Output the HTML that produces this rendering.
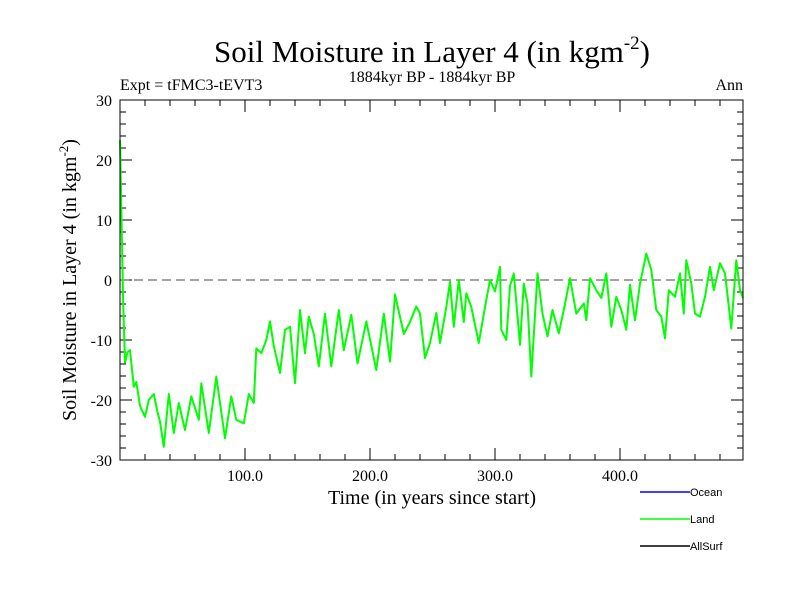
<!DOCTYPE html>
<html><head><meta charset="utf-8"><style>
body{margin:0;background:#fff;}
svg{display:block;font-family:"Liberation Serif",serif;}
</style></head><body>
<svg id="chart" width="800" height="600" xmlns="http://www.w3.org/2000/svg">
<rect width="800" height="600" fill="#fff"/>
<text x="432" y="62" font-size="31" text-anchor="middle">Soil Moisture in Layer 4 (in kgm<tspan font-size="19" dy="-13">-2</tspan><tspan dy="13">)</tspan></text>
<text x="120" y="90" font-size="16">Expt = tFMC3-tEVT3</text>
<text x="432" y="82" font-size="16" text-anchor="middle">1884kyr BP - 1884kyr BP</text>
<text x="743" y="90" font-size="16" text-anchor="end">Ann</text>
<text transform="translate(76,280) rotate(-90)" font-size="20" text-anchor="middle">Soil Moisture in Layer 4 (in kgm<tspan font-size="13" dy="-8">-2</tspan><tspan dy="8">)</tspan></text>
<text x="432" y="504" font-size="20" text-anchor="middle">Time (in years since start)</text>
<g id="axes"></g>
<g id="series"></g>
<rect x="120" y="100" width="623" height="360" fill="none" stroke="#000" stroke-width="1"/>
<g font-family="Liberation Sans, sans-serif" font-size="11">
<line x1="640" y1="492" x2="690" y2="492" stroke="#0000ff" stroke-width="1.5"/>
<text x="690" y="496">Ocean</text>
<line x1="640" y1="519" x2="690" y2="519" stroke="#00ff00" stroke-width="1.5"/>
<text x="690" y="523">Land</text>
<line x1="640" y1="546" x2="690" y2="546" stroke="#000" stroke-width="1.5"/>
<text x="690" y="550">AllSurf</text>
</g>
</svg>
<script>
const years=[0,1,2.5,4,6,8,11,13,16,20,23,27,30,32,35,39,43,47,52,57,63,65,71,77,84,89,93,99,103,107,109,113,117,120,123,128,132,136,140,144,148,151,155,159,164,169,175,179,185,190,197,205,211,216,220,227,232,237,240,244,248,253,256,261,264,267,271,275,277,281,287,292,296,300,304,305,309,312,315,320,323,326,329,334,338,342,346,351,356,360,365,371,373,376,381,385,389,393,397,401,405,408,412,416,421,425,429,433,436,439,444,448,451,453,457,460,464,468,472,475,480,484,489,493,496,498.5];
const landValues=[23.3,12,-3.3,-13.8,-12,-11.7,-17.8,-17,-21,-22.8,-20,-19,-22,-23.6,-27.8,-19,-25.5,-20.5,-25,-19.4,-23.3,-17.2,-25.5,-16.1,-26.4,-19.4,-23.3,-23.9,-19,-20.5,-11.4,-12.2,-10,-6.9,-11,-15.5,-8.3,-7.8,-17.2,-5,-12.2,-6.1,-9,-14.4,-5.6,-14.4,-5,-11.7,-5.8,-13.9,-6.9,-15,-5.6,-13.6,-2.4,-9,-7,-4.4,-5.6,-13,-10.5,-5.5,-10.5,-4.5,-0.3,-7.8,0,-7,-2.2,-4.5,-10.5,-4.5,0,-1.9,2.2,-8.3,-10,-1,1.1,-10.8,-0.6,-3.9,-16.1,1.1,-5.6,-9.4,-5,-8.9,-4,0.3,-5.6,-3.9,-6.7,0.3,-1.7,-3,1.1,-7.8,-2.8,-5,-8.3,-0.8,-6.7,-0.6,4.4,1.7,-5,-6.1,-9.7,-1.7,-2.8,1.1,-5.6,3.3,-0.6,-5.6,-6.1,-2.8,2.2,-1.7,2.8,1.1,-8.1,3.3,-1.7,-3];
const yTicks=[-30,-20,-10,0,10,20,30];
const xTicks=[100,200,300,400];
const xTickLabels=["100.0","200.0","300.0","400.0"];
const X0=120,X1=743,Y0=100,Y1=460,TMAX=498.4,VMIN=-30,VMAX=30;
const sx=t=>X0+(t/TMAX)*(X1-X0);
const sy=v=>Y1-(v-VMIN)/(VMAX-VMIN)*(Y1-Y0);
const NS="http://www.w3.org/2000/svg";
const axes=document.getElementById('axes');
function mk(tag,attrs,parent){const e=document.createElementNS(NS,tag);for(const k in attrs)e.setAttribute(k,attrs[k]);parent.appendChild(e);return e;}
for(let v=VMIN;v<=VMAX;v+=2){const major=v%10===0;const len=major?12:6;
 const a=mk('line',{x1:X0,y1:sy(v),x2:X0+len,y2:sy(v),stroke:'#000'},axes);
 
 
 const b=mk('line',{x1:X1,y1:sy(v),x2:X1-len,y2:sy(v),stroke:'#000'},axes);
 
 }
yTicks.forEach(v=>{const t=mk('text',{x:X0-8,y:sy(v)+6,'font-size':16,'text-anchor':'end'},axes);t.textContent=String(v);
 
 });
for(let t=20;t<TMAX;t+=20){const major=t%100===0;const len=major?12:6;
 const a=mk('line',{x1:sx(t),y1:Y1,x2:sx(t),y2:Y1-len,stroke:'#000'},axes);
 
 
 const b=mk('line',{x1:sx(t),y1:Y0,x2:sx(t),y2:Y0+len,stroke:'#000'},axes);
 
 }
xTicks.forEach((t,i)=>{const e=mk('text',{x:sx(t),y:Y1+21,'font-size':16,'text-anchor':'middle'},axes);e.textContent=xTickLabels[i];
 
 });
const zero=mk('line',{x1:X0,y1:sy(0),x2:X1,y2:sy(0),stroke:'#444','stroke-dasharray':'9,5'},axes);


const series=document.getElementById('series');
const pts=years.map((t,i)=>sx(t).toFixed(1)+','+sy(landValues[i]).toFixed(1)).join(' ');
const pl=mk('polyline',{points:pts,fill:'none',stroke:'#00ff00','stroke-width':2,'stroke-linejoin':'round'},series);


</script>
</body></html>
